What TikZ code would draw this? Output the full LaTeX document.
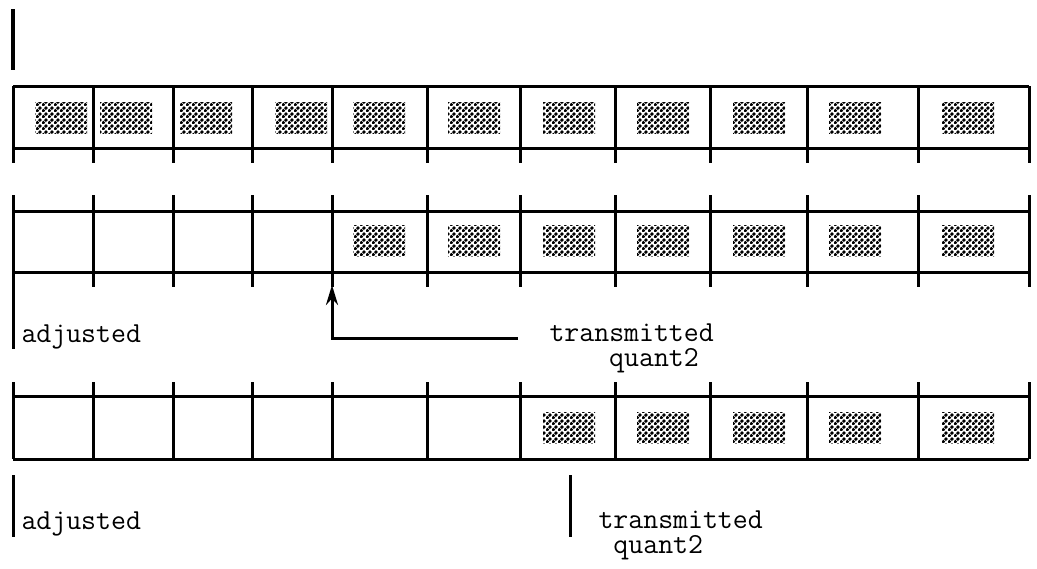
\documentclass[tikz,border=0pt]{standalone}
\usepackage{fontspec}
\usetikzlibrary{arrows.meta, patterns.meta}

\tikzdeclarepattern{
  name=quantdots,
  type=uncolored,
  bounding box={(0pt,0pt) and (3pt,3pt)},
  tile size={(3pt,3pt)},
  code={
    \fill (0.75pt,0.75pt) circle (1.1pt);
    \fill (2.25pt,2.25pt) circle (1.1pt);
  }
}

\begin{document}
\begin{tikzpicture}[x=0.5pt, y=-0.5pt, line width=1.5pt,
  lbl/.style={font=\fontsize{14.5}{12.5}\selectfont\ttfamily, inner sep=0pt, anchor=base west, align=left},
  quant/.style={pattern=quantdots, pattern color=black}]
\useasboundingbox (0,0) rectangle (1037,568);
% marker above the first row
\draw [line width=2pt] (13,9) -- (13,70);
% row 1
\draw (13,86) -- (1029,86);
\draw (13,148) -- (1029,148);
\foreach \x in {13,93,173,252,332,427,520,615,710,807,918,1029}
\draw (\x,86) -- (\x,163);
\foreach \bx in {35,100,180,275,353,448,543,637,733,829,942}
\fill [quant] (\bx,102) rectangle ++(52,31);
% row 2
\draw (13,211) -- (1029,211);
\draw (13,272) -- (1029,272);
\foreach \x in {13,93,173,252,332,427,520,615,710,807,918,1029}
\draw (\x,195) -- (\x,287);
\foreach \bx in {353,448,543,637,733,829,942}
\fill [quant] (\bx,225) rectangle ++(52,31);
\draw (13,287) -- (13,349);
\node [lbl] (adjmid) at (20,342) {adjusted};
\node [lbl] (transmid) at (548,366) {transmitted\\\hphantom{tran}quant2};
\coordinate (arrowtail) at (518,338);
\coordinate (arrowbend) at (332,338);
\coordinate (arrowtip) at (332,285);
\draw [-{Stealth[length=10pt,width=6pt]}] (arrowtail) -- (arrowbend) -- (arrowtip);
% row 3
\draw (13,396) -- (1029,396);
\draw (13,459) -- (1029,459);
\foreach \x in {13,93,173,252,332,427,520,615,710,807,918,1029}
\draw (\x,382) -- (\x,459);
\foreach \bx in {543,637,733,829,942}
\fill [quant] (\bx,412) rectangle ++(52,31);
\draw (13,475) -- (13,537);
\draw (570,475) -- (570,537);
\node [lbl] (adjlow) at (20,529) {adjusted};
\node [lbl] (translow) at (597,553) {transmitted\\\hphantom{t}quant2};
\end{tikzpicture}
\end{document}
